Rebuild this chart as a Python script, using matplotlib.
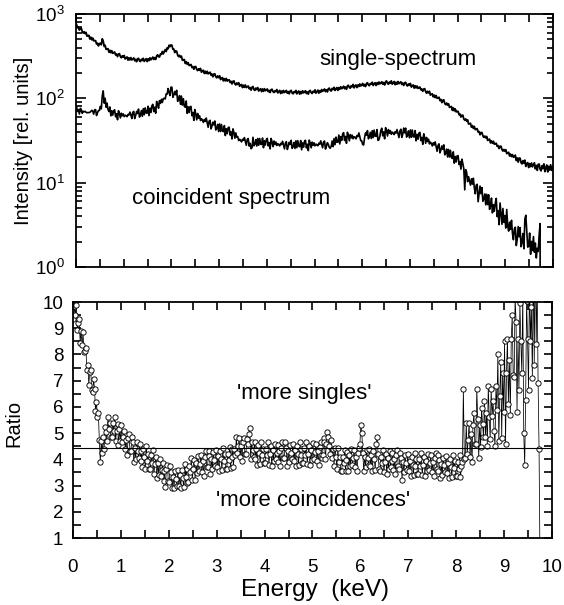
import matplotlib.pyplot as plt
import numpy as np
from matplotlib.ticker import MultipleLocator, LogLocator, NullFormatter

plt.rcParams['font.family'] = ['Liberation Sans', 'DejaVu Sans']

# channel calibration: first bin centre and bin width (keV)
e_start = 0.01
e_step = 0.02

# single spectrum, counts per channel
single = [
    752, 688, 699, 645, 680, 678, 620, 594, 616, 585,
    605, 545, 554, 558, 505, 530, 494, 519, 480, 484,
    482, 441, 451, 418, 445, 449, 431, 508, 478, 412,
    425, 380, 386, 387, 352, 371, 347, 367, 341, 347,
    354, 326, 335, 312, 335, 338, 313, 303, 319, 307,
    322, 293, 302, 309, 283, 302, 285, 304, 285, 293,
    301, 279, 290, 272, 294, 298, 278, 273, 290, 281,
    298, 274, 285, 295, 273, 294, 280, 302, 286, 297,
    308, 289, 304, 289, 317, 328, 311, 309, 335, 332,
    359, 336, 358, 378, 358, 396, 387, 426, 410, 430,
    426, 383, 384, 349, 366, 361, 327, 312, 323, 306,
    316, 282, 287, 288, 259, 272, 253, 265, 245, 247,
    252, 232, 238, 221, 237, 238, 220, 213, 224, 215,
    226, 204, 211, 215, 197, 209, 197, 209, 195, 199,
    204, 188, 194, 180, 194, 195, 180, 175, 184, 176,
    185, 167, 173, 176, 161, 171, 161, 172, 160, 164,
    166, 154, 159, 148, 159, 161, 148, 144, 152, 146,
    153, 139, 143, 146, 134, 143, 135, 144, 134, 137,
    140, 130, 134, 125, 135, 138, 127, 124, 132, 127,
    134, 122, 127, 130, 120, 129, 121, 130, 123, 125,
    129, 120, 124, 117, 127, 128, 120, 117, 123, 120,
    127, 116, 120, 124, 114, 122, 116, 124, 117, 120,
    124, 115, 120, 113, 122, 124, 116, 113, 120, 117,
    124, 113, 118, 122, 112, 120, 114, 123, 116, 119,
    123, 114, 119, 112, 122, 124, 117, 114, 121, 118,
    126, 115, 120, 125, 115, 123, 118, 127, 121, 124,
    129, 120, 126, 119, 130, 132, 124, 122, 131, 127,
    135, 124, 130, 134, 124, 134, 128, 137, 130, 134,
    139, 130, 136, 128, 140, 143, 134, 132, 141, 137,
    146, 133, 140, 144, 134, 144, 138, 148, 140, 144,
    150, 140, 146, 138, 150, 153, 144, 141, 150, 147,
    155, 142, 149, 153, 142, 153, 146, 156, 148, 152,
    157, 147, 154, 144, 157, 161, 150, 147, 156, 151,
    161, 147, 153, 158, 145, 155, 147, 158, 149, 153,
    157, 146, 152, 142, 152, 155, 144, 140, 148, 143,
    150, 136, 141, 144, 132, 141, 133, 140, 131, 134,
    136, 126, 129, 121, 129, 130, 120, 115, 121, 116,
    121, 109, 112, 113, 104, 109, 102, 108, 100, 101,
    103, 94, 97, 89, 95, 96, 87, 84, 88, 83,
    86, 78, 79, 80, 72, 77, 71, 75, 69, 70,
    70, 64, 65, 60, 63, 63, 57, 55, 57, 53.5,
    55.5, 49.5, 50, 50.5, 45.5, 47.5, 44, 46.5, 42.5, 43,
    43.7, 39.8, 40.4, 37, 39.3, 39.3, 35.9, 34.4, 35.7, 34,
    35.3, 31.7, 32.4, 32.8, 29.6, 31.3, 29.3, 30.9, 28.6, 29,
    29.3, 26.9, 27.5, 25.4, 27, 27, 24.7, 23.7, 24.7, 23.6,
    24.6, 22.1, 22.6, 22.9, 20.7, 21.8, 20.4, 21.5, 20, 20.3,
    21.2, 18.3, 19.6, 17.5, 19.6, 19.5, 17.3, 16.7, 18.2, 17,
    18.5, 15.6, 16.8, 17.3, 15.1, 16.8, 15.5, 17.1, 15.4, 16.3,
    17.2, 14.6, 16, 14, 16.5, 16.6, 14.4, 13.8, 15.9, 14.7,
    16.7, 13.5, 15, 16.2, 13.4, 15.6, 14.1, 16.3, 14, 15.2,
]

# single / coincident ratio per channel (lower panel), 0 = no coincidences
ratio = [
    9.35, 9.85, 9.5, 9.9, 8.95, 9.2, 9.35, 8.45, 8.9, 8.35,
    8.85, 8.1, 8.15, 8.25, 7.4, 7.6, 6.85, 7.35, 7.4, 6.65,
    6.55, 7.05, 6.7, 5.85, 6.2, 5.6, 5.75, 4.75, 3.9, 4.7,
    4.25, 4.85, 4.4, 5.25, 5.05, 4.7, 5.6, 5.15, 5.4, 4.85,
    4.85, 5.4, 5.1, 5.6, 4.7, 5.1, 5.35, 4.55, 5.15, 4.7,
    5.3, 4.65, 4.85, 5.1, 4.4, 4.75, 4.15, 4.8, 4.95, 4.3,
    4.3, 4.85, 4.65, 3.9, 4.45, 4.0, 4.65, 4.3, 4.05, 4.6,
    3.95, 4.3, 3.7, 4.4, 4.1, 3.65, 4.5, 3.95, 4.2, 3.65,
    3.63, 4.15, 3.87, 4.34, 3.45, 3.82, 4.08, 3.29, 3.85, 3.41,
    4.02, 3.38, 3.59, 3.85, 3.17, 3.54, 2.96, 3.63, 3.8, 3.17,
    3.15, 3.73, 3.51, 2.9, 3.32, 2.9, 3.55, 3.25, 3.0, 3.6,
    2.97, 3.39, 2.9, 3.58, 3.3, 2.93, 3.81, 3.34, 3.62, 3.1,
    3.15, 3.73, 3.51, 4.04, 3.22, 3.64, 3.96, 3.23, 3.85, 3.47,
    4.14, 3.56, 3.83, 4.15, 3.51, 3.92, 3.38, 4.09, 4.3, 3.71,
    3.72, 4.33, 4.14, 3.45, 4.01, 3.62, 4.28, 3.99, 3.75, 4.36,
    3.72, 4.13, 3.54, 4.3, 4.0, 3.6, 4.45, 3.95, 4.2, 3.65,
    3.65, 4.2, 3.97, 4.49, 3.66, 4.08, 4.4, 3.7, 4.4, 4.15,
    4.85, 4.25, 4.5, 4.8, 4.1, 4.5, 3.95, 4.65, 4.83, 4.21,
    4.2, 4.79, 4.58, 4.95, 5.2, 4.0, 4.65, 4.34, 4.08, 4.67,
    4.01, 4.4, 3.8, 4.54, 4.23, 3.82, 4.66, 4.15, 4.4, 3.85,
    3.85, 4.4, 4.15, 4.65, 3.8, 4.2, 4.5, 3.75, 4.35, 3.95,
    4.6, 4.0, 4.25, 4.55, 3.9, 4.3, 3.75, 4.45, 4.65, 4.05,
    4.05, 4.65, 4.45, 3.75, 4.3, 3.9, 4.55, 4.25, 4.0, 4.6,
    3.95, 4.35, 3.75, 4.5, 4.2, 3.8, 4.65, 4.15, 4.4, 3.85,
    3.87, 4.42, 4.17, 4.67, 3.82, 4.22, 4.52, 3.77, 4.37, 3.97,
    4.62, 4.02, 4.27, 4.57, 3.92, 4.32, 3.77, 4.47, 4.67, 4.07,
    4.15, 4.8, 4.65, 4.0, 4.6, 5.05, 4.85, 4.5, 4.2, 4.75,
    4.05, 4.4, 3.75, 4.45, 4.1, 3.65, 4.45, 3.9, 4.1, 3.55,
    3.55, 4.1, 3.85, 4.37, 3.54, 3.96, 4.28, 3.55, 4.15, 3.75,
    4.4, 3.8, 4.05, 4.35, 3.7, 4.1, 3.55, 4.25, 4.45, 4.6,
    5.3, 5.0, 4.25, 3.55, 4.1, 3.7, 4.35, 4.05, 3.8, 4.4,
    3.75, 4.15, 3.55, 4.3, 4.0, 3.6, 4.6, 4.85, 4.2, 3.65,
    3.55, 4.1, 3.85, 4.35, 3.5, 3.9, 4.2, 3.45, 4.05, 3.65,
    4.3, 3.7, 3.95, 4.25, 3.6, 4.0, 3.45, 4.15, 4.35, 3.75,
    3.65, 4.25, 4.05, 3.2, 3.9, 3.5, 4.15, 3.85, 3.6, 4.2,
    3.55, 3.95, 3.35, 4.1, 3.8, 3.4, 4.25, 3.75, 4.0, 3.45,
    3.45, 4.0, 3.75, 4.25, 3.4, 3.8, 4.1, 3.35, 3.95, 3.55,
    4.2, 3.6, 3.85, 4.15, 3.5, 3.9, 3.35, 4.05, 4.25, 3.65,
    3.57, 4.17, 3.97, 3.27, 3.82, 3.42, 4.07, 3.77, 3.52, 4.12,
    3.47, 3.87, 3.27, 4.02, 3.72, 3.32, 4.17, 3.67, 3.92, 3.37,
    3.35, 3.9, 3.65, 4.15, 3.32, 3.75, 3.9, 6.7, 4.0, 4.05,
    5.4, 4.2, 4.75, 5.4, 4.1, 4.95, 3.9, 5.3, 5.75, 4.6,
    4.57, 6.7, 5.55, 4.06, 5.32, 4.49, 5.97, 5.36, 4.86, 6.23,
    4.85, 5.78, 4.51, 6.8, 5.6, 4.77, 6.69, 5.64, 6.24, 5.08,
    4.5, 6.8, 5.9, 8.0, 4.7, 6.4, 7.7, 4.8, 7.3, 5.8,
    8.5, 4.6, 7.3, 8.6, 6.1, 7.8, 5.7, 8.6, 9.5, 7.2,
    7.15, 10.2, 9.25, 5.8, 8.6, 6.65, 9.95, 8.5, 7.3, 10.35,
    5.0, 3.8, 6.25, 10.05, 8.6, 6.65, 10.95, 8.5, 9.8, 7.1,
    11.5, 7.6, 12.5, 8.4, 10.8, 6.9, 4.4, 0, 0, 0,
    0, 0, 0, 0, 0, 0, 0, 0, 0, 0,
]

ratio_mean = 4.45

single = np.array(single, dtype=float)
ratio = np.array(ratio, dtype=float)
energy = e_start + e_step * np.arange(len(single))

# coincident spectrum follows from single / ratio
coinc = np.zeros_like(single)
np.divide(single, ratio, out=coinc, where=ratio > 0)

fig = plt.figure(figsize=(5.64, 6.05), dpi=100)
ax1 = fig.add_axes([0.1348, 0.5587, 0.8457, 0.4182])
ax2 = fig.add_axes([0.1294, 0.1107, 0.8493, 0.3901])

# upper panel: spectra
ax1.plot(energy, single, color='black', lw=1.3)
ax1.plot(energy, coinc, color='black', lw=1.2)
ax1.set_yscale('log')
ax1.set_xlim(0, 10)
ax1.set_ylim(1, 1000)
ax1.xaxis.set_major_locator(MultipleLocator(1))
ax1.xaxis.set_minor_locator(MultipleLocator(0.5))
ax1.yaxis.set_major_locator(LogLocator(base=10, numticks=10))
ax1.yaxis.set_minor_locator(LogLocator(base=10, subs=np.arange(2, 10), numticks=10))
ax1.yaxis.set_minor_formatter(NullFormatter())
ax1.tick_params(which='both', direction='in', top=True, right=True,
                labelbottom=False, labelsize=13.5, width=1.2)
ax1.tick_params(axis='y', which='major', length=7, pad=8)
ax1.tick_params(axis='y', which='minor', length=4.5)
ax1.tick_params(axis='x', which='both', length=6)
ax1.set_ylabel('Intensity [rel. units]', fontsize=14.5)
ax1.yaxis.set_label_coords(-0.090, 0.5)
ax1.text(6.75, 285, 'single-spectrum', ha='center', va='center', fontsize=16)
ax1.text(3.26, 6.4, 'coincident spectrum', ha='center', va='center', fontsize=16)

# lower panel: ratio
ax2.plot(energy, ratio, '-o', color='black', lw=0.55, ms=3.8,
         mfc='white', mec='black', mew=0.65)
ax2.axhline(ratio_mean, color='black', lw=0.8)
ax2.set_xlim(0, 10)
ax2.set_ylim(1, 10)
ax2.xaxis.set_major_locator(MultipleLocator(1))
ax2.xaxis.set_minor_locator(MultipleLocator(0.5))
ax2.yaxis.set_major_locator(MultipleLocator(1))
ax2.yaxis.set_minor_locator(MultipleLocator(0.5))
ax2.tick_params(which='both', direction='in', top=True, right=True,
                labelsize=13.5, width=1.2, length=6)
ax2.tick_params(axis='x', pad=15)
ax2.tick_params(axis='y', pad=7)
ax2.set_ylabel('Ratio', fontsize=14.5)
ax2.yaxis.set_label_coords(-0.104, 0.485)
ax2.set_xlabel('Energy  (keV)', fontsize=17.5)
ax2.xaxis.set_label_coords(0.505, -0.175)
ax2.text(4.83, 6.5, "'more singles'", ha='center', va='center', fontsize=16)
ax2.text(5.02, 2.45, "'more coincidences'", ha='center', va='center', fontsize=16)

for ax in (ax1, ax2):
    for sp in ax.spines.values():
        sp.set_linewidth(1.3)

fig.savefig('out.png', dpi=100)
